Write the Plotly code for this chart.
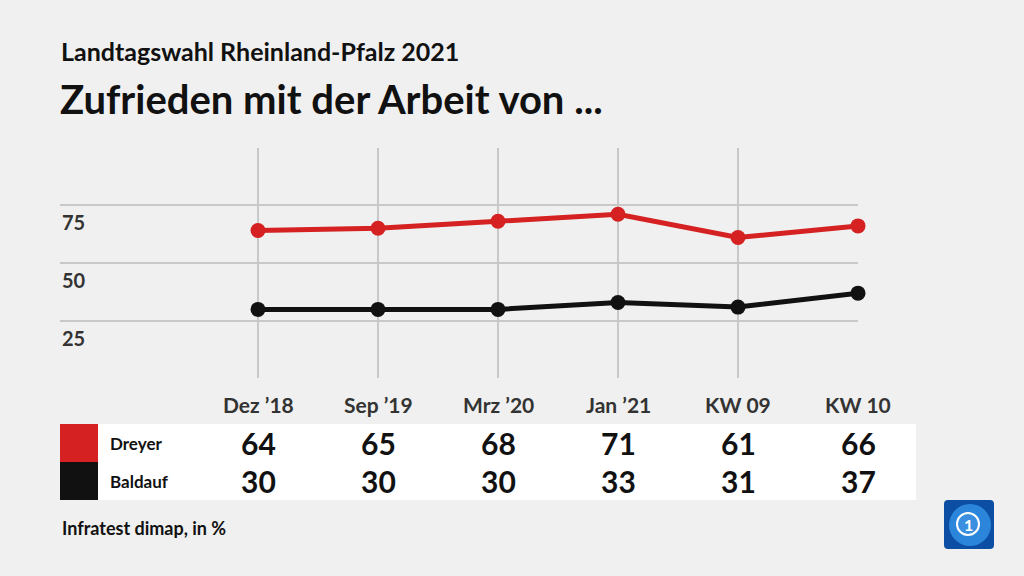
import plotly.graph_objects as go

categories = ["Dez ’18", "Sep ’19", "Mrz ’20", "Jan ’21", "KW 09", "KW 10"]
dreyer = [64, 65, 68, 71, 61, 66]
baldauf = [30, 30, 30, 33, 31, 37]
series_names = ["Dreyer", "Baldauf"]
series_colors = ["#d52121", "#111111"]
y_ticks = [25, 50, 75]

W, H = 1024, 576
FONT = "Lato, sans-serif"

def px(x):
    return x / W

def py(y):
    return 1 - y / H

x_idx = list(range(len(categories)))

fig = go.Figure()
for vals, name, col in zip([dreyer, baldauf], series_names, series_colors):
    fig.add_trace(go.Scatter(
        x=x_idx, y=vals, mode="lines+markers", name=name,
        line=dict(color=col, width=5), marker=dict(color=col, size=15),
        hoverinfo="skip", cliponaxis=False))

shapes = []
shapes.append(dict(type="rect", xref="paper", yref="paper", x0=px(60), x1=px(916),
                   y0=py(500), y1=py(424), fillcolor="white", line=dict(width=0), layer="below"))
for i, col in enumerate(series_colors):
    shapes.append(dict(type="rect", xref="paper", yref="paper", x0=px(60), x1=px(98),
                       y0=py(462 + 38 * i), y1=py(424 + 38 * i), fillcolor=col, line=dict(width=0)))
x0, x1, y0, y1, r = 944, 994, 500, 549, 4
path = (f"M {px(x0+r)},{py(y0)} L {px(x1-r)},{py(y0)} Q {px(x1)},{py(y0)} {px(x1)},{py(y0+r)} "
        f"L {px(x1)},{py(y1-r)} Q {px(x1)},{py(y1)} {px(x1-r)},{py(y1)} L {px(x0+r)},{py(y1)} "
        f"Q {px(x0)},{py(y1)} {px(x0)},{py(y1-r)} L {px(x0)},{py(y0+r)} Q {px(x0)},{py(y0)} {px(x0+r)},{py(y0)} Z")
shapes.append(dict(type="path", xref="paper", yref="paper", path=path, fillcolor="#0c4ea3", line=dict(width=0)))
shapes.append(dict(type="circle", xref="paper", yref="paper", x0=px(949), x1=px(991), y0=py(546), y1=py(504),
                   fillcolor="#2b86db", line=dict(width=0)))
shapes.append(dict(type="circle", xref="paper", yref="paper", x0=px(957), x1=px(979), y0=py(535), y1=py(513),
                   fillcolor="#3a8fe0", line=dict(color="white", width=2)))

annotations = []
annotations.append(dict(text="<b>Landtagswahl Rheinland-Pfalz 2021</b>", xref="paper", yref="paper",
                        x=px(59), y=py(51), xanchor="left", yanchor="middle", showarrow=False,
                        font=dict(family=FONT, size=25, color="#111")))
annotations.append(dict(text="<b>Zufrieden mit der Arbeit von ...</b>", xref="paper", yref="paper",
                        x=px(58), y=py(99), xanchor="left", yanchor="middle", showarrow=False,
                        font=dict(family=FONT, size=40, color="#111")))
for t in y_ticks:
    annotations.append(dict(text=f"<b>{t}</b>", xref="paper", yref="y", x=px(60), y=t,
                            yshift=-17, xanchor="left", yanchor="middle", showarrow=False,
                            font=dict(family=FONT, size=20, color="#333")))
for i, c in enumerate(categories):
    annotations.append(dict(text=f"<b>{c}</b>", xref="x", yref="paper", x=i, y=py(404),
                            xanchor="center", yanchor="middle", showarrow=False,
                            font=dict(family=FONT, size=21, color="#333")))
for r_i, (vals, name) in enumerate(zip([dreyer, baldauf], series_names)):
    yc = 443 + 38 * r_i
    annotations.append(dict(text=f"<b>{name}</b>", xref="paper", yref="paper", x=px(108), y=py(yc),
                            xanchor="left", yanchor="middle", showarrow=False,
                            font=dict(family=FONT, size=17, color="#111")))
    for i, v in enumerate(vals):
        annotations.append(dict(text=f"<b>{v}</b>", xref="x", yref="paper", x=i, y=py(yc),
                                xanchor="center", yanchor="middle", showarrow=False,
                                font=dict(family=FONT, size=30, color="#111")))
annotations.append(dict(text="<b>Infratest dimap, in %</b>", xref="paper", yref="paper", x=px(60), y=py(528),
                        xanchor="left", yanchor="middle", showarrow=False,
                        font=dict(family=FONT, size=18, color="#111")))
annotations.append(dict(text="<b>1</b>", xref="paper", yref="paper", x=px(968), y=py(524),
                        xanchor="center", yanchor="middle", showarrow=False,
                        font=dict(family=FONT, size=16, color="white")))

fig.update_layout(
    width=W, height=H, margin=dict(l=0, r=0, t=0, b=0),
    paper_bgcolor="#f0f0f0", plot_bgcolor="#f0f0f0", showlegend=False,
    xaxis=dict(domain=[px(60), px(858)], range=[-1.65, 5], tickvals=x_idx, showticklabels=False,
               showgrid=True, gridcolor="#c8c8c8", gridwidth=1.5, zeroline=False, showline=False, fixedrange=True),
    yaxis=dict(domain=[py(378), py(148)], range=[0.43, 99.57], tickvals=y_ticks, showticklabels=False,
               showgrid=True, gridcolor="#c8c8c8", gridwidth=1.5, zeroline=False, showline=False, fixedrange=True),
    shapes=shapes, annotations=annotations,
)

fig.write_html("out.html", config={"displayModeBar": False})
